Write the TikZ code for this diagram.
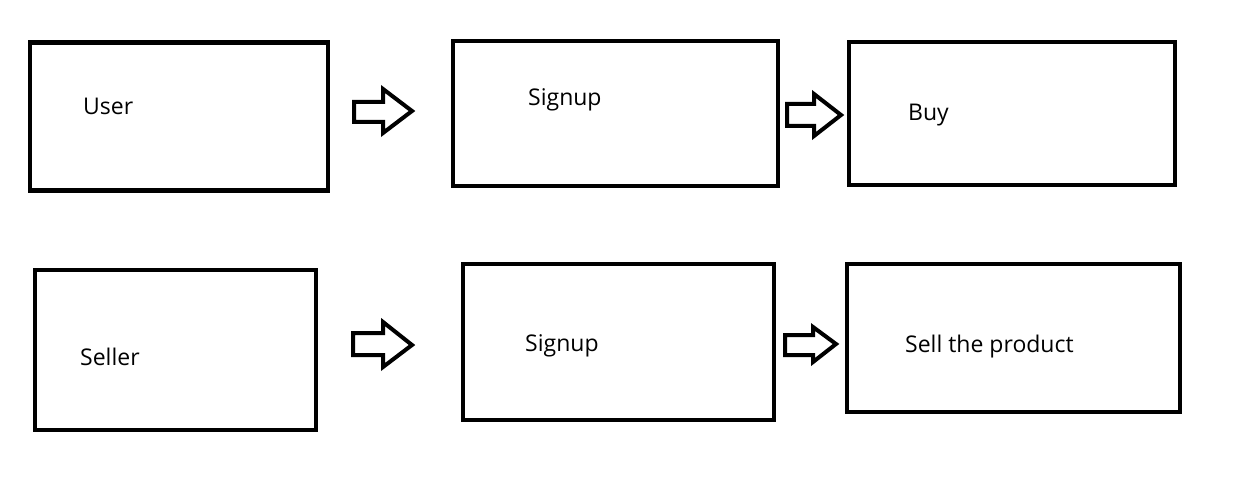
\documentclass[tikz,border=0pt]{standalone}
\usepackage{fontspec}
\setmainfont{Open Sans}
\begin{document}
\begin{tikzpicture}[x=1pt,y=-1pt,
  box/.style={draw=black,line width=4.5pt,fill=white,inner sep=0pt},
  lbl/.style={anchor=west,inner sep=0pt,font=\fontsize{23}{27}\selectfont},
  blockarrow/.style={draw=black,line width=4pt,line join=miter,fill=white}]
\useasboundingbox[fill=white] (0,0) rectangle (1256,500);
% boxes
\node[box,minimum width=298pt,minimum height=148pt] (user) at (179,116.5) {};
\node[box,minimum width=325pt,minimum height=145pt] (signupA) at (615.5,113.5) {};
\node[box,minimum width=326pt,minimum height=143pt] (buy) at (1012,113.5) {};
\node[box,minimum width=281pt,minimum height=160pt] (seller) at (175.5,350) {};
\node[box,minimum width=311pt,minimum height=156pt] (signupB) at (618.5,342) {};
\node[box,minimum width=333pt,minimum height=148pt] (sell) at (1013.5,338) {};
% labels
\node[lbl] (tuser) at (83,106) {User};
\node[lbl] (tsignupA) at (528,100) {Signup};
\node[lbl] (tbuy) at (908,115) {Buy};
\node[lbl] (tseller) at (80,357) {Seller};
\node[lbl] (tsignupB) at (525,346) {Signup};
\node[lbl] (tsell) at (905,347) {Sell the product};
% block arrows
\draw[blockarrow] (354,102) -- (383,102) -- (383,89) -- (412,111) -- (383,133) -- (383,122) -- (354,122) -- cycle;
\draw[blockarrow] (787,104) -- (814,104) -- (814,94) -- (841,115) -- (814,136) -- (814,126) -- (787,126) -- cycle;
\draw[blockarrow] (353,333) -- (383,333) -- (383,322) -- (412,345) -- (383,367) -- (383,355) -- (353,355) -- cycle;
\draw[blockarrow] (785,335) -- (813,335) -- (813,327) -- (836,344) -- (813,362) -- (813,355) -- (785,355) -- cycle;
\end{tikzpicture}
\end{document}
